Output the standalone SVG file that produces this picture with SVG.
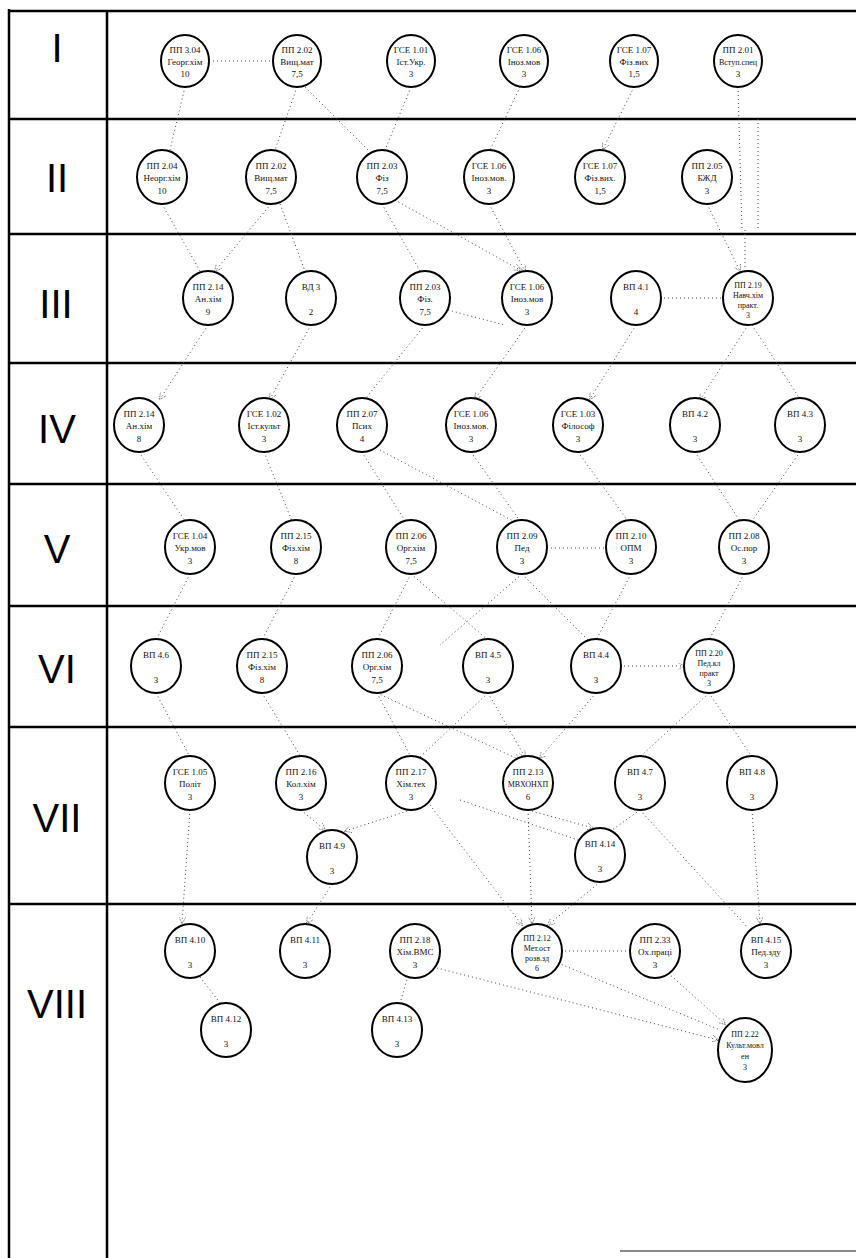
<svg xmlns="http://www.w3.org/2000/svg" width="856" height="1258" viewBox="0 0 856 1258">
<defs>
<style>
.grid{stroke:#000;stroke-width:2.5;fill:none}
.c{fill:#fff;stroke:#000;stroke-width:2}
.t{font-family:"Liberation Serif","Times New Roman",serif;font-size:9px;text-anchor:middle;fill:#111}
.s{font-size:8px}
.rn{font-family:"Liberation Sans",Arial,sans-serif;font-size:40px;text-anchor:middle;fill:#000}
.cn line{stroke:#444;stroke-width:1;stroke-dasharray:1 3;fill:none}
</style>
<marker id="ah" viewBox="0 0 8 8" refX="7" refY="4" markerWidth="7" markerHeight="7" orient="auto">
<path d="M0,0 L8,4 L0,8" fill="none" stroke="#555" stroke-width="1" stroke-dasharray="1 1"/>
</marker>
</defs>
<rect width="856" height="1258" fill="#fff"/>
<g id="table">
<line class="grid" x1="9" y1="11" x2="856" y2="11" stroke-width="4"/>
<line class="grid" x1="9" y1="9" x2="9" y2="1258" stroke-width="3"/>
<line class="grid" x1="107" y1="11" x2="107" y2="1258"/>
<line class="grid" x1="9" y1="119" x2="856" y2="119"/>
<line class="grid" x1="9" y1="234" x2="856" y2="234"/>
<line class="grid" x1="9" y1="363" x2="856" y2="363"/>
<line class="grid" x1="9" y1="484" x2="856" y2="484"/>
<line class="grid" x1="9" y1="606" x2="856" y2="606"/>
<line class="grid" x1="9" y1="727" x2="856" y2="727"/>
<line class="grid" x1="9" y1="904" x2="856" y2="904"/>
<line x1="620" y1="1251" x2="856" y2="1251" stroke="#888" stroke-width="2"/>
<text class="rn" x="57" y="62">I</text>
<text class="rn" x="57" y="192">II</text>
<text class="rn" x="56" y="318">III</text>
<text class="rn" x="57" y="443">IV</text>
<text class="rn" x="57" y="563">V</text>
<text class="rn" x="57" y="683">VI</text>
<text class="rn" x="57" y="832">VII</text>
<text class="rn" x="57" y="1018">VIII</text>
</g>
<g id="connectors" class="cn">
<line x1="209" y1="61" x2="273" y2="61"/>
<line x1="185" y1="87" x2="170" y2="150"/>
<line x1="297" y1="87" x2="275" y2="150"/>
<line x1="305" y1="87" x2="370" y2="152"/>
<line x1="411" y1="87" x2="385" y2="150"/>
<line x1="520" y1="87" x2="490" y2="150"/>
<line x1="634" y1="87" x2="603" y2="149" marker-end="url(#ah)"/>
<line x1="738" y1="87" x2="742" y2="230"/>
<line x1="758" y1="119" x2="758" y2="230"/>
<line x1="162" y1="204" x2="200" y2="271"/>
<line x1="271" y1="204" x2="215" y2="271" marker-end="url(#ah)"/>
<line x1="280" y1="204" x2="305" y2="271"/>
<line x1="382" y1="204" x2="420" y2="271"/>
<line x1="395" y1="200" x2="520" y2="270" marker-end="url(#ah)"/>
<line x1="489" y1="204" x2="525" y2="271" marker-end="url(#ah)"/>
<line x1="707" y1="204" x2="740" y2="271" marker-end="url(#ah)"/>
<line x1="745" y1="230" x2="745" y2="271"/>
<line x1="660" y1="298" x2="724" y2="298"/>
<line x1="448" y1="310" x2="505" y2="325"/>
<line x1="208" y1="325" x2="160" y2="399" marker-end="url(#ah)"/>
<line x1="311" y1="325" x2="270" y2="399" marker-end="url(#ah)"/>
<line x1="425" y1="325" x2="365" y2="399"/>
<line x1="527" y1="325" x2="475" y2="399" marker-end="url(#ah)"/>
<line x1="636" y1="325" x2="590" y2="399" marker-end="url(#ah)"/>
<line x1="748" y1="325" x2="700" y2="400" marker-end="url(#ah)"/>
<line x1="752" y1="325" x2="800" y2="399"/>
<line x1="139" y1="452" x2="185" y2="521"/>
<line x1="264" y1="452" x2="292" y2="521"/>
<line x1="362" y1="452" x2="405" y2="521"/>
<line x1="380" y1="450" x2="515" y2="522"/>
<line x1="471" y1="452" x2="520" y2="521"/>
<line x1="578" y1="452" x2="628" y2="521"/>
<line x1="695" y1="452" x2="740" y2="521"/>
<line x1="800" y1="452" x2="752" y2="521"/>
<line x1="547" y1="548" x2="607" y2="548"/>
<line x1="190" y1="574" x2="156" y2="640"/>
<line x1="296" y1="574" x2="262" y2="640"/>
<line x1="411" y1="574" x2="377" y2="640"/>
<line x1="411" y1="574" x2="488" y2="640"/>
<line x1="522" y1="574" x2="440" y2="645"/>
<line x1="522" y1="574" x2="590" y2="642"/>
<line x1="631" y1="574" x2="596" y2="640"/>
<line x1="744" y1="574" x2="709" y2="640"/>
<line x1="620" y1="666" x2="684" y2="666" marker-end="url(#ah)"/>
<line x1="156" y1="693" x2="190" y2="757"/>
<line x1="262" y1="693" x2="301" y2="757"/>
<line x1="377" y1="693" x2="411" y2="757"/>
<line x1="377" y1="693" x2="520" y2="760" marker-end="url(#ah)"/>
<line x1="488" y1="693" x2="525" y2="757" marker-end="url(#ah)"/>
<line x1="488" y1="693" x2="420" y2="757"/>
<line x1="596" y1="693" x2="540" y2="758" marker-end="url(#ah)"/>
<line x1="709" y1="693" x2="752" y2="757"/>
<line x1="709" y1="693" x2="640" y2="757"/>
<line x1="411" y1="810" x2="345" y2="831" marker-end="url(#ah)"/>
<line x1="301" y1="810" x2="325" y2="830" marker-end="url(#ah)"/>
<line x1="528" y1="810" x2="593" y2="828" marker-end="url(#ah)"/>
<line x1="460" y1="800" x2="578" y2="840"/>
<line x1="640" y1="810" x2="612" y2="830"/>
<line x1="190" y1="810" x2="182" y2="923" marker-end="url(#ah)"/>
<line x1="332" y1="884" x2="307" y2="923" marker-end="url(#ah)"/>
<line x1="600" y1="882" x2="548" y2="925" marker-end="url(#ah)"/>
<line x1="528" y1="810" x2="532" y2="923" marker-end="url(#ah)"/>
<line x1="430" y1="805" x2="522" y2="925" marker-end="url(#ah)"/>
<line x1="752" y1="810" x2="760" y2="923" marker-end="url(#ah)"/>
<line x1="640" y1="810" x2="748" y2="928"/>
<line x1="561" y1="951" x2="631" y2="951"/>
<line x1="437" y1="968" x2="718" y2="1040" marker-end="url(#ah)"/>
<line x1="558" y1="963" x2="720" y2="1030"/>
<line x1="668" y1="973" x2="725" y2="1024" marker-end="url(#ah)"/>
<line x1="200" y1="977" x2="220" y2="1003"/>
<line x1="408" y1="976" x2="400" y2="1003"/>
</g>
<g id="I-1"><ellipse class="c" cx="185" cy="61" rx="24" ry="26"/><text class="t" x="185" y="53">ПП 3.04</text><text class="t" x="185" y="65">Георг.хім</text><text class="t" x="185" y="77">10</text></g>
<g id="I-2"><ellipse class="c" cx="297" cy="61" rx="24" ry="26"/><text class="t" x="297" y="53">ПП 2.02</text><text class="t" x="297" y="65">Вищ.мат</text><text class="t" x="297" y="77">7,5</text></g>
<g id="I-3"><ellipse class="c" cx="411" cy="61" rx="24" ry="26"/><text class="t" x="411" y="53">ГСЕ 1.01</text><text class="t" x="411" y="65">Іст.Укр.</text><text class="t" x="411" y="77">3</text></g>
<g id="I-4"><ellipse class="c" cx="524" cy="61" rx="24" ry="26"/><text class="t" x="524" y="53">ГСЕ 1.06</text><text class="t" x="524" y="65">Іноз.мов</text><text class="t" x="524" y="77">3</text></g>
<g id="I-5"><ellipse class="c" cx="634" cy="61" rx="24" ry="26"/><text class="t" x="634" y="53">ГСЕ 1.07</text><text class="t" x="634" y="65">Фіз.вих</text><text class="t" x="634" y="77">1,5</text></g>
<g id="I-6"><ellipse class="c" cx="738" cy="61" rx="24" ry="26"/><text class="t" x="738" y="53">ПП 2.01</text><text class="t s" x="738" y="65">Вступ.спец</text><text class="t" x="738" y="77">3</text></g>

<g id="II-1"><ellipse class="c" cx="162" cy="177" rx="25" ry="27"/><text class="t" x="162" y="169">ПП 2.04</text><text class="t" x="162" y="181">Неорг.хім</text><text class="t" x="162" y="194">10</text></g>
<g id="II-2"><ellipse class="c" cx="271" cy="177" rx="25" ry="27"/><text class="t" x="271" y="169">ПП 2.02</text><text class="t" x="271" y="181">Вищ.мат</text><text class="t" x="271" y="194">7,5</text></g>
<g id="II-3"><ellipse class="c" cx="382" cy="177" rx="25" ry="27"/><text class="t" x="382" y="169">ПП 2.03</text><text class="t" x="382" y="181">Фіз</text><text class="t" x="382" y="194">7,5</text></g>
<g id="II-4"><ellipse class="c" cx="489" cy="177" rx="25" ry="27"/><text class="t" x="489" y="169">ГСЕ 1.06</text><text class="t" x="489" y="181">Іноз.мов.</text><text class="t" x="489" y="194">3</text></g>
<g id="II-5"><ellipse class="c" cx="600" cy="177" rx="25" ry="27"/><text class="t" x="600" y="169">ГСЕ 1.07</text><text class="t" x="600" y="181">Фіз.вих.</text><text class="t" x="600" y="194">1,5</text></g>
<g id="II-6"><ellipse class="c" cx="707" cy="177" rx="25" ry="27"/><text class="t" x="707" y="169">ПП 2.05</text><text class="t" x="707" y="181">БЖД</text><text class="t" x="707" y="194">3</text></g>

<g id="III-1"><ellipse class="c" cx="208" cy="298" rx="25" ry="27"/><text class="t" x="208" y="290">ПП 2.14</text><text class="t" x="208" y="302">Ан.хім</text><text class="t" x="208" y="315">9</text></g>
<g id="III-2"><ellipse class="c" cx="311" cy="298" rx="25" ry="27"/><text class="t" x="311" y="290">ВД 3</text><text class="t" x="311" y="315">2</text></g>
<g id="III-3"><ellipse class="c" cx="425" cy="298" rx="25" ry="27"/><text class="t" x="425" y="290">ПП 2.03</text><text class="t" x="425" y="302">Фіз.</text><text class="t" x="425" y="315">7,5</text></g>
<g id="III-4"><ellipse class="c" cx="527" cy="298" rx="25" ry="27"/><text class="t" x="527" y="290">ГСЕ 1.06</text><text class="t" x="527" y="302">Іноз.мов</text><text class="t" x="527" y="315">3</text></g>
<g id="III-5"><ellipse class="c" cx="636" cy="298" rx="25" ry="27"/><text class="t" x="636" y="290">ВП 4.1</text><text class="t" x="636" y="315">4</text></g>
<g id="III-6"><ellipse class="c" cx="748" cy="298" rx="25" ry="27"/><text class="t s" x="748" y="288">ПП 2.19</text><text class="t s" x="748" y="298">Навч.хім</text><text class="t s" x="748" y="308">практ.</text><text class="t s" x="748" y="318">3</text></g>

<g id="IV-1"><ellipse class="c" cx="139" cy="425" rx="25" ry="27"/><text class="t" x="139" y="417">ПП 2.14</text><text class="t" x="139" y="429">Ан.хім</text><text class="t" x="139" y="442">8</text></g>
<g id="IV-2"><ellipse class="c" cx="264" cy="425" rx="25" ry="27"/><text class="t" x="264" y="417">ГСЕ 1.02</text><text class="t" x="264" y="429">Іст.культ</text><text class="t" x="264" y="442">3</text></g>
<g id="IV-3"><ellipse class="c" cx="362" cy="425" rx="25" ry="27"/><text class="t" x="362" y="417">ПП 2.07</text><text class="t" x="362" y="429">Псих</text><text class="t" x="362" y="442">4</text></g>
<g id="IV-4"><ellipse class="c" cx="471" cy="425" rx="25" ry="27"/><text class="t" x="471" y="417">ГСЕ 1.06</text><text class="t" x="471" y="429">Іноз.мов.</text><text class="t" x="471" y="442">3</text></g>
<g id="IV-5"><ellipse class="c" cx="578" cy="425" rx="25" ry="27"/><text class="t" x="578" y="417">ГСЕ 1.03</text><text class="t" x="578" y="429">Філософ</text><text class="t" x="578" y="442">3</text></g>
<g id="IV-6"><ellipse class="c" cx="695" cy="425" rx="25" ry="27"/><text class="t" x="695" y="417">ВП 4.2</text><text class="t" x="695" y="442">3</text></g>
<g id="IV-7"><ellipse class="c" cx="800" cy="425" rx="25" ry="27"/><text class="t" x="800" y="417">ВП 4.3</text><text class="t" x="800" y="442">3</text></g>

<g id="V-1"><ellipse class="c" cx="190" cy="547" rx="25" ry="27"/><text class="t" x="190" y="539">ГСЕ 1.04</text><text class="t" x="190" y="551">Укр.мов</text><text class="t" x="190" y="564">3</text></g>
<g id="V-2"><ellipse class="c" cx="296" cy="547" rx="25" ry="27"/><text class="t" x="296" y="539">ПП 2.15</text><text class="t" x="296" y="551">Фіз.хім</text><text class="t" x="296" y="564">8</text></g>
<g id="V-3"><ellipse class="c" cx="411" cy="547" rx="25" ry="27"/><text class="t" x="411" y="539">ПП 2.06</text><text class="t" x="411" y="551">Орг.хім</text><text class="t" x="411" y="564">7,5</text></g>
<g id="V-4"><ellipse class="c" cx="522" cy="547" rx="25" ry="27"/><text class="t" x="522" y="539">ПП 2.09</text><text class="t" x="522" y="551">Пед</text><text class="t" x="522" y="564">3</text></g>
<g id="V-5"><ellipse class="c" cx="631" cy="547" rx="25" ry="27"/><text class="t" x="631" y="539">ПП 2.10</text><text class="t" x="631" y="551">ОПМ</text><text class="t" x="631" y="564">3</text></g>
<g id="V-6"><ellipse class="c" cx="744" cy="547" rx="25" ry="27"/><text class="t" x="744" y="539">ПП 2.08</text><text class="t" x="744" y="551">Ос.пор</text><text class="t" x="744" y="564">3</text></g>

<g id="VI-1"><ellipse class="c" cx="156" cy="666" rx="25" ry="27"/><text class="t" x="156" y="658">ВП 4.6</text><text class="t" x="156" y="683">3</text></g>
<g id="VI-2"><ellipse class="c" cx="262" cy="666" rx="25" ry="27"/><text class="t" x="262" y="658">ПП 2.15</text><text class="t" x="262" y="670">Фіз.хім</text><text class="t" x="262" y="683">8</text></g>
<g id="VI-3"><ellipse class="c" cx="377" cy="666" rx="25" ry="27"/><text class="t" x="377" y="658">ПП 2.06</text><text class="t" x="377" y="670">Орг.хім</text><text class="t" x="377" y="683">7,5</text></g>
<g id="VI-4"><ellipse class="c" cx="488" cy="666" rx="25" ry="27"/><text class="t" x="488" y="658">ВП 4.5</text><text class="t" x="488" y="683">3</text></g>
<g id="VI-5"><ellipse class="c" cx="596" cy="666" rx="25" ry="27"/><text class="t" x="596" y="658">ВП 4.4</text><text class="t" x="596" y="683">3</text></g>
<g id="VI-6"><ellipse class="c" cx="709" cy="666" rx="25" ry="27"/><text class="t s" x="709" y="656">ПП 2.20</text><text class="t s" x="709" y="666">Пед.кл</text><text class="t s" x="709" y="676">практ</text><text class="t s" x="709" y="686">3</text></g>

<g id="VII-1"><ellipse class="c" cx="190" cy="783" rx="25" ry="27"/><text class="t" x="190" y="775">ГСЕ 1.05</text><text class="t" x="190" y="787">Політ</text><text class="t" x="190" y="800">3</text></g>
<g id="VII-2"><ellipse class="c" cx="301" cy="783" rx="25" ry="27"/><text class="t" x="301" y="775">ПП 2.16</text><text class="t" x="301" y="787">Кол.хім</text><text class="t" x="301" y="800">3</text></g>
<g id="VII-3"><ellipse class="c" cx="411" cy="783" rx="25" ry="27"/><text class="t" x="411" y="775">ПП 2.17</text><text class="t" x="411" y="787">Хім.тех</text><text class="t" x="411" y="800">3</text></g>
<g id="VII-4"><ellipse class="c" cx="528" cy="783" rx="25" ry="27"/><text class="t" x="528" y="775">ПП 2.13</text><text class="t s" x="528" y="787">МВХОНХП</text><text class="t" x="528" y="800">6</text></g>
<g id="VII-5"><ellipse class="c" cx="640" cy="783" rx="25" ry="27"/><text class="t" x="640" y="775">ВП 4.7</text><text class="t" x="640" y="800">3</text></g>
<g id="VII-6"><ellipse class="c" cx="752" cy="783" rx="25" ry="27"/><text class="t" x="752" y="775">ВП 4.8</text><text class="t" x="752" y="800">3</text></g>
<g id="VII-7"><ellipse class="c" cx="332" cy="857" rx="25" ry="27"/><text class="t" x="332" y="849">ВП 4.9</text><text class="t" x="332" y="874">3</text></g>
<g id="VII-8"><ellipse class="c" cx="600" cy="855" rx="25" ry="27"/><text class="t" x="600" y="847">ВП 4.14</text><text class="t" x="600" y="872">3</text></g>

<g id="VIII-1"><ellipse class="c" cx="190" cy="951" rx="25" ry="27"/><text class="t" x="190" y="943">ВП 4.10</text><text class="t" x="190" y="968">3</text></g>
<g id="VIII-2"><ellipse class="c" cx="305" cy="951" rx="25" ry="27"/><text class="t" x="305" y="943">ВП 4.11</text><text class="t" x="305" y="968">3</text></g>
<g id="VIII-3"><ellipse class="c" cx="415" cy="951" rx="25" ry="27"/><text class="t" x="415" y="943">ПП 2.18</text><text class="t" x="415" y="955">Хім.ВМС</text><text class="t" x="415" y="968">3</text></g>
<g id="VIII-4"><ellipse class="c" cx="537" cy="951" rx="25" ry="27"/><text class="t s" x="537" y="941">ПП 2.12</text><text class="t s" x="537" y="951">Мет.ост</text><text class="t s" x="537" y="961">розв.зд</text><text class="t s" x="537" y="971">6</text></g>
<g id="VIII-5"><ellipse class="c" cx="655" cy="951" rx="25" ry="27"/><text class="t" x="655" y="943">ПП 2.33</text><text class="t" x="655" y="955">Ох.праці</text><text class="t" x="655" y="968">3</text></g>
<g id="VIII-6"><ellipse class="c" cx="766" cy="951" rx="25" ry="27"/><text class="t" x="766" y="943">ВП 4.15</text><text class="t" x="766" y="955">Пед.зду</text><text class="t" x="766" y="968">3</text></g>
<g id="VIII-7"><ellipse class="c" cx="226" cy="1030" rx="25" ry="27"/><text class="t" x="226" y="1022">ВП 4.12</text><text class="t" x="226" y="1047">3</text></g>
<g id="VIII-8"><ellipse class="c" cx="397" cy="1030" rx="25" ry="27"/><text class="t" x="397" y="1022">ВП 4.13</text><text class="t" x="397" y="1047">3</text></g>
<g id="VIII-9"><ellipse class="c" cx="745" cy="1050" rx="27" ry="32"/><text class="t s" x="745" y="1037">ПП 2.22</text><text class="t s" x="745" y="1048">Культ.мовл</text><text class="t s" x="745" y="1059">ен</text><text class="t s" x="745" y="1070">3</text></g>
</svg>
